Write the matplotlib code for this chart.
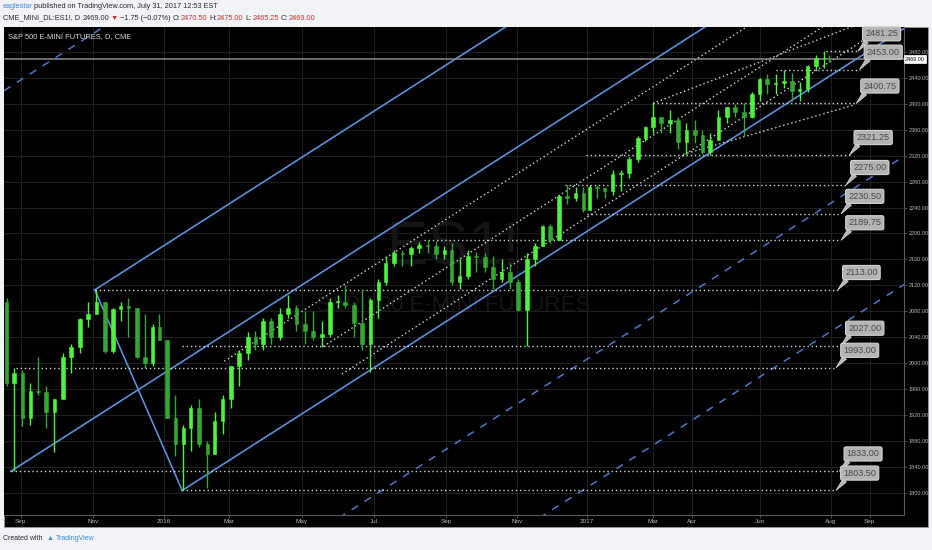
import numpy as np
import pandas as pd
import matplotlib
matplotlib.use('Agg')
import matplotlib.pyplot as plt
from matplotlib.patches import Rectangle
from matplotlib.transforms import blended_transform_factory

# weekly OHLC (S&P 500 E-mini, continuous)
WEEK_END = [
    '2015-08-21', '2015-08-28', '2015-09-04', '2015-09-11', '2015-09-18', '2015-09-25',
    '2015-10-02', '2015-10-09', '2015-10-16', '2015-10-23', '2015-10-30', '2015-11-06',
    '2015-11-13', '2015-11-20', '2015-11-27', '2015-12-04', '2015-12-11', '2015-12-18',
    '2015-12-24', '2015-12-31', '2016-01-08', '2016-01-15', '2016-01-22', '2016-01-29',
    '2016-02-05', '2016-02-12', '2016-02-19', '2016-02-26', '2016-03-04', '2016-03-11',
    '2016-03-18', '2016-03-24', '2016-04-01', '2016-04-08', '2016-04-15', '2016-04-22',
    '2016-04-29', '2016-05-06', '2016-05-13', '2016-05-20', '2016-05-27', '2016-06-03',
    '2016-06-10', '2016-06-17', '2016-06-24', '2016-07-01', '2016-07-08', '2016-07-15',
    '2016-07-22', '2016-07-29', '2016-08-05', '2016-08-12', '2016-08-19', '2016-08-26',
    '2016-09-02', '2016-09-09', '2016-09-16', '2016-09-23', '2016-09-30', '2016-10-07',
    '2016-10-14', '2016-10-21', '2016-10-28', '2016-11-04', '2016-11-11', '2016-11-18',
    '2016-11-25', '2016-12-02', '2016-12-09', '2016-12-16', '2016-12-23', '2016-12-30',
    '2017-01-06', '2017-01-13', '2017-01-20', '2017-01-27', '2017-02-03', '2017-02-10',
    '2017-02-17', '2017-02-24', '2017-03-03', '2017-03-10', '2017-03-17', '2017-03-24',
    '2017-03-31', '2017-04-07', '2017-04-13', '2017-04-21', '2017-04-28', '2017-05-05',
    '2017-05-12', '2017-05-19', '2017-05-26', '2017-06-02', '2017-06-09', '2017-06-16',
    '2017-06-23', '2017-06-30', '2017-07-07', '2017-07-14', '2017-07-21', '2017-07-28',
    '2017-07-31',
]
FIRST_OPEN = 2095
HIGH = [
    2100, 1993, 1990, 1970, 2010, 1965, 1945, 2015, 2030, 2070, 2095, 2113,
    2095, 2085, 2095, 2100, 2085, 2075, 2060, 2075, 2035, 1950, 1905, 1935,
    1945, 1880, 1925, 1950, 1995, 2020, 2048, 2050, 2070, 2070, 2085, 2105,
    2090, 2080, 2080, 2065, 2100, 2105, 2120, 2095, 2115, 2100, 2130, 2165,
    2175, 2175, 2180, 2187, 2190, 2188, 2180, 2185, 2160, 2175, 2172, 2170,
    2165, 2160, 2155, 2130, 2170, 2185, 2213, 2215, 2260, 2275, 2272, 2272,
    2275, 2275, 2272, 2298, 2298, 2318, 2350, 2366, 2400.75, 2380, 2390, 2380,
    2370, 2375, 2360, 2355, 2390, 2395, 2400, 2402, 2418, 2440, 2446, 2446,
    2453, 2447, 2434, 2460, 2475, 2481.25, 2475,
]
LOW = [
    1965, 1833, 1903, 1905, 1950, 1900, 1863, 1945, 1985, 2015, 2055, 2075,
    2015, 2015, 2065, 2040, 2008, 1992, 1995, 2035, 1915, 1857, 1803.5, 1865,
    1870, 1807, 1860, 1890, 1930, 1965, 2005, 2020, 2020, 2030, 2035, 2070,
    2050, 2030, 2035, 2025, 2040, 2085, 2085, 2040, 2020, 1986, 2070, 2120,
    2150, 2150, 2150, 2170, 2170, 2160, 2160, 2120, 2115, 2130, 2140, 2140,
    2115, 2125, 2115, 2080, 2027, 2150, 2180, 2185, 2190, 2245, 2250, 2233,
    2236, 2255, 2255, 2260, 2265, 2285, 2310, 2343, 2355, 2355, 2355, 2330,
    2322, 2340, 2322, 2321, 2345, 2370, 2380, 2350, 2378, 2405, 2415, 2415,
    2425, 2405, 2405, 2418, 2452, 2455, 2465.25,
]
CLOSE = [
    1970, 1985, 1915, 1957, 1956, 1925, 1945, 2010, 2025, 2068, 2075, 2094,
    2018, 2083, 2088, 2085, 2010, 2000, 2055, 2035, 1915, 1875, 1900, 1930,
    1875, 1860, 1910, 1945, 1995, 2015, 2040, 2030, 2065, 2040, 2075, 2085,
    2060, 2050, 2040, 2045, 2095, 2095, 2090, 2062, 2030, 2098, 2125, 2155,
    2170, 2168, 2178, 2182, 2180, 2168, 2175, 2125, 2135, 2165, 2163, 2148,
    2130, 2140, 2125, 2082, 2160, 2180, 2211, 2190, 2258, 2255, 2262, 2236,
    2272, 2270, 2266, 2292, 2293, 2315, 2348, 2365, 2380, 2370, 2375, 2341,
    2360, 2352, 2325, 2345, 2380, 2395, 2388, 2380, 2415, 2438, 2431, 2432,
    2436, 2420, 2423, 2458, 2470, 2470, 2469,
]

# exchange holidays (no bar on these days)
HOLIDAYS = [
    '2015-09-07', '2015-11-26', '2015-12-25', '2016-01-01', '2016-01-18', '2016-02-15',
    '2016-03-25', '2016-05-30', '2016-07-04', '2016-09-05', '2016-11-24', '2016-12-26',
    '2017-01-02', '2017-01-16', '2017-02-20', '2017-04-14', '2017-05-29', '2017-07-04',
]

# channel drawn through three pivots
PIVOT_A = ('2015-08-24', 1833.0)
PIVOT_B = ('2015-11-03', 2113.0)
PIVOT_C = ('2016-01-20', 1803.5)
CHANNEL_SLOPE = 1.66      # points per bar
CHANNEL_STEP = 198.0      # points between parallel lines
DASHED_STEPS = [3, -2, -3]
INNER_OFFSETS = [-41, -116, -177]
INNER_STARTS = ['2016-02-25', '2016-05-19', '2016-06-06']

# extra trend rays: (start date, start price, points per bar, end date)
RAYS = [
    ('2017-03-27', 2322.0, 0.75, '2017-08-21'),
    ('2017-03-01', 2400.75, 1.0, '2017-09-29'),
]

# horizontal levels with callouts
LEVELS = [2481.25, 2453.00, 2400.75, 2321.25, 2275.00, 2230.50,
          2189.75, 2113.00, 2027.00, 1993.00, 1833.00, 1803.50]
LEVEL_START = ['2017-07-27', '2017-06-14', '2017-03-01', '2016-12-30', '2016-12-13', '2017-01-03',
               '2016-08-15', '2015-11-03', '2016-01-20', '2015-08-27', '2015-08-24', '2016-01-20']
LEVEL_END = ['2017-08-23', '2017-08-24', '2017-08-22', '2017-08-16', '2017-08-14', '2017-08-09',
             '2017-08-09', '2017-08-07', '2017-08-09', '2017-08-04', '2017-08-08', '2017-08-04']

LAST_PRICE = 2469.00

MONTH_TICKS = ['2015-09-01', '2015-11-01', '2016-01-01', '2016-03-01', '2016-05-01', '2016-07-01',
               '2016-09-01', '2016-11-01', '2017-01-01', '2017-03-01', '2017-04-01', '2017-06-01',
               '2017-08-01', '2017-09-01']
MONTH_LABELS = ['Sep', 'Nov', '2016', 'Mar', 'May', 'Jul', 'Sep', 'Nov', '2017',
                'Mar', 'Apr', 'Jun', 'Aug', 'Sep']
PRICE_TICKS = list(range(1800, 2481, 40))

W, H = 932, 550
FONT = ['Liberation Sans', 'DejaVu Sans']

# trading-day index (bars), future bars are plain weekdays
trading = pd.bdate_range('2015-08-18', '2017-07-31')
trading = trading[~trading.isin(pd.to_datetime(HOLIDAYS))]
days = trading.append(pd.bdate_range('2017-08-01', '2017-10-31'))


def bar(d):
    return float(days.searchsorted(pd.Timestamp(d)))


fig = plt.figure(figsize=(W / 100, H / 100), dpi=100, facecolor='#f1f3f6')
fig.add_artist(Rectangle((4 / W, 1 - 527 / H), 924 / W, 500 / H, transform=fig.transFigure,
                         facecolor='black', edgecolor='#9a9a9a', lw=0.6, zorder=0))
ax = fig.add_axes([4 / W, 35 / H, 900 / W, 488 / H])
ax.set_facecolor('black')
xmin, xmax = 0.0, 535.4
ax.set_xlim(xmin, xmax)
ax.set_ylim(1765.6, 2518.6)

# candles
ends = pd.to_datetime(WEEK_END)
opens = [FIRST_OPEN] + CLOSE[:-1]
prev = pd.Timestamp('2015-08-01')
for i, e in enumerate(ends):
    idx = np.where((days > prev) & (days <= e))[0]
    prev = e
    xc = idx.mean()
    wd = 0.45 * len(idx)
    up = CLOSE[i] >= opens[i]
    col = '#4cf53c' if up else '#33a833'
    ax.vlines(xc, LOW[i], HIGH[i], color=col, lw=1.0, zorder=4)
    lo, hi = min(opens[i], CLOSE[i]), max(opens[i], CLOSE[i])
    ax.add_patch(Rectangle((xc - wd / 2, lo), wd, max(hi - lo, 1.2), facecolor=col,
                           edgecolor=col, lw=0.4, zorder=4))

# channel lines
xa, ya = bar(PIVOT_A[0]), PIVOT_A[1]
xb, yb = bar(PIVOT_B[0]), PIVOT_B[1]
xc_, yc = bar(PIVOT_C[0]), PIVOT_C[1]
blue = '#5b8fd9'


def mid(x):
    return ya + CHANNEL_SLOPE * (np.asarray(x) - xa)


for x0, y0 in [(xa, ya), (xb, yb), (xc_, yc)]:
    ax.plot([x0, xmax], [y0, y0 + CHANNEL_SLOPE * (xmax - x0)], color=blue, lw=1.2, zorder=3)
ax.plot([xb, xc_], [yb, yc], color=blue, lw=1.2, zorder=3)
for k in DASHED_STEPS:
    xs = np.array([xmin, xmax])
    ax.plot(xs, mid(xs) + k * CHANNEL_STEP, color='#4d78c8', lw=1.1, ls=(0, (5, 5)), zorder=3)

dot = dict(color='#d4d4d4', lw=1.0, ls=(0, (1, 2)), zorder=3)
for off, start in zip(INNER_OFFSETS, INNER_STARTS):
    xs = np.array([bar(start), xmax])
    ax.plot(xs, mid(xs) + off, **dot)
for start, p0, slope, end in RAYS:
    x0, x1 = bar(start), bar(end)
    ax.plot([x0, x1], [p0, p0 + slope * (x1 - x0)], **dot)

# last price line
ax.axhline(LAST_PRICE, color='#8a8a8a', lw=1.1, zorder=3)

# levels with callouts
for lv, s, e in zip(LEVELS, LEVEL_START, LEVEL_END):
    x0, x1 = bar(s), bar(e)
    ax.plot([x0, x1], [lv, lv], **dot)
    ax.annotate(f'{lv:.2f}', xy=(x1, lv), xytext=(17, 12.5), textcoords='offset points',
                ha='center', va='center', fontsize=6.6, family=FONT, color='#484848', zorder=6,
                bbox=dict(boxstyle='round,pad=0.28,rounding_size=0.2', fc='#b4b4b4', ec='#d2d2d2', lw=0.8),
                arrowprops=dict(arrowstyle='wedge,tail_width=0.5,shrink_factor=0.5', fc='#b4b4b4',
                                ec='#d2d2d2', lw=0.6, relpos=(0.12, 0.0), shrinkA=0, shrinkB=0))

# watermark and title
ax.text(0.499, 0.545, 'ES1!', transform=ax.transAxes, ha='center', va='center', fontsize=44,
        family='Liberation Sans', color='#151515', zorder=1)
ax.text(0.499, 0.430, 'S&P 500 E-MINI FUTURES', transform=ax.transAxes, ha='center', va='center',
        fontsize=16, family='Liberation Sans', color='#151515', zorder=1)
ax.text(0.0045, 0.9795, 'S&P 500 E-MINI FUTURES, D, CME', transform=ax.transAxes, ha='left',
        va='center', fontsize=5.4, family=FONT, color='#dcdcdc', zorder=7)

# axes styling
ax.set_xticks([bar(d) for d in MONTH_TICKS])
ax.set_xticklabels(MONTH_LABELS)
ax.set_yticks(PRICE_TICKS)
ax.set_yticklabels([f'{p:.2f}' for p in PRICE_TICKS])
ax.yaxis.tick_right()
ax.tick_params(axis='both', colors='#555555', labelcolor='#b5b5b5', length=2, width=0.6, pad=1.2)
ax.tick_params(axis='y', labelsize=4.0)
ax.tick_params(axis='x', labelsize=4.6)
for lab in ax.get_xticklabels() + ax.get_yticklabels():
    lab.set_family(FONT)
ax.grid(True, color='#1e1e1e', lw=0.8, zorder=0)
ax.set_axisbelow(True)
for side in ['left', 'top']:
    ax.spines[side].set_visible(False)
for side in ['right', 'bottom']:
    ax.spines[side].set_color('#5a5a5a')
    ax.spines[side].set_linewidth(0.8)

trans = blended_transform_factory(ax.transAxes, ax.transData)
ax.text(1.001, LAST_PRICE, f'{LAST_PRICE:.2f}', transform=trans, ha='left', va='center',
        fontsize=4.0, family=FONT, color='#111111', zorder=8, clip_on=False,
        bbox=dict(boxstyle='square,pad=0.25', fc='white', ec='white', lw=0.5))

# header lines
renderer = fig.canvas.get_renderer()


def seq_text(x_px, y_px, parts, size):
    x = x_px
    for s, color, gap in parts:
        t = fig.text(x / W, 1 - y_px / H, s, color=color, fontsize=size, family=FONT,
                     ha='left', va='center')
        x = t.get_window_extent(renderer).x1 + gap


dark, red, tvblue = '#2b2b2b', '#c9302c', '#3b8ad9'
seq_text(3, 7, [('eaglestar', tvblue, 1.5),
                ('published on TradingView.com, July 31, 2017 12:53 EST', dark, 0)], 5.3)
seq_text(3, 18, [('CME_MINI_DL:ES1!, D', dark, 2.5), ('2469.00', dark, 1.5), ('▼', red, 1.5),
                 ('−1.75 (−0.07%)', dark, 2.5), ('O:', dark, 0.3), ('2470.50', red, 2),
                 ('H:', dark, 0.3), ('2475.00', red, 2), ('L:', dark, 0.3), ('2465.25', red, 2),
                 ('C:', dark, 0.3), ('2469.00', red, 0)], 5.3)
seq_text(3, 539, [('Created with', dark, 4), ('▲', tvblue, 3), ('TradingView', tvblue, 0)], 5.0)

fig.savefig('out.png', dpi=100, facecolor=fig.get_facecolor())
